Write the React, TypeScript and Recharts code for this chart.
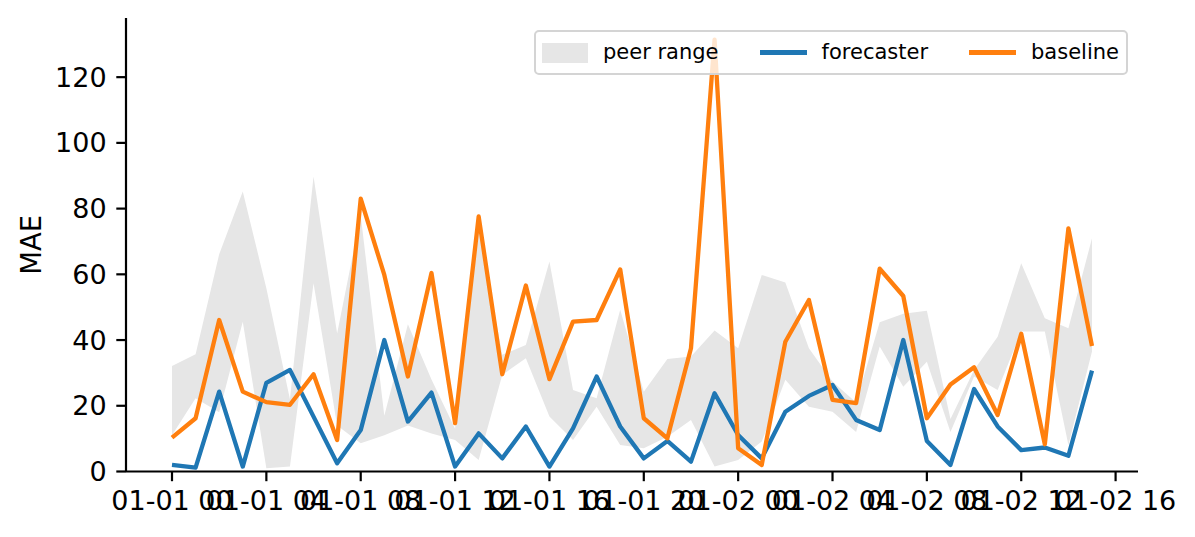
import React from 'react';
import { ComposedChart, Area, Line, XAxis, YAxis } from 'recharts';

// hours since 01-01 00
const hours = [
  0, 1, 2, 3, 4, 5, 6, 7, 8, 9, 10, 11, 12, 13, 14, 15, 16, 17, 18, 19,
  20, 21, 22, 23, 24, 25, 26, 27, 28, 29, 30, 31, 32, 33, 34, 35, 36, 37, 38, 39,
];

const forecaster = [
  2.0, 1.2, 24.3, 1.5, 27.0, 30.9, 16.7, 2.5, 12.6, 40.0,
  15.2, 24.0, 1.5, 11.6, 4.0, 13.7, 1.5, 13.1, 28.9, 13.7,
  4.0, 9.3, 3.0, 23.8, 11.1, 4.0, 18.2, 23.0, 26.3, 15.7,
  12.6, 40.0, 9.3, 2.0, 25.1, 13.7, 6.5, 7.3, 4.8, 30.7,
];

const baseline = [
  10.3, 16.2, 46.1, 24.3, 21.1, 20.3, 29.6, 9.6, 83.0, 59.8,
  28.9, 60.4, 14.7, 77.6, 29.6, 56.6, 28.1, 45.6, 46.1, 61.5,
  16.2, 10.1, 37.5, 131.4, 7.1, 2.0, 39.5, 52.2, 21.8, 20.8,
  61.7, 53.4, 16.2, 26.5, 31.7, 17.2, 41.9, 8.3, 74.0, 38.2,
];

const peerHigh = [
  32.1, 35.7, 66.1, 85.2, 55.8, 22.0, 89.8, 42.0, 78.0, 17.0,
  44.8, 28.0, 13.0, 75.0, 35.5, 38.5, 63.9, 24.8, 22.3, 49.2,
  24.3, 34.2, 35.0, 42.9, 37.5, 59.8, 57.5, 37.5, 27.4, 21.0,
  45.4, 48.0, 48.9, 16.0, 30.9, 41.0, 63.4, 46.6, 43.6, 71.0,
];

const peerLow = [
  11.0, 22.3, 18.0, 45.6, 1.0, 1.5, 57.3, 14.0, 8.6, 11.0,
  14.0, 11.6, 9.6, 3.5, 29.4, 34.5, 16.7, 9.6, 19.7, 8.1,
  7.1, 10.6, 15.7, 1.5, 3.5, 9.1, 27.9, 19.7, 18.2, 12.0,
  38.0, 25.8, 33.4, 12.0, 28.9, 24.8, 42.6, 42.6, 8.1, 36.5,
];

const tickHours = [0, 4, 8, 12, 16, 20, 24, 28, 32, 36, 40];
const tickLabels = [
  '01-01 00', '01-01 04', '01-01 08', '01-01 12', '01-01 16', '01-01 20',
  '01-02 00', '01-02 04', '01-02 08', '01-02 12', '01-02 16',
];
const yTicks = [0, 20, 40, 60, 80, 100, 120];

const data = hours.map((h, i) => ({
  t: h,
  peer: [peerLow[i], peerHigh[i]],
  forecaster: forecaster[i],
  baseline: baseline[i],
}));

const FONT = 'DejaVu Sans, sans-serif';
const tickStyle = { fill: '#000', fontSize: 27, fontFamily: FONT };
const axisStroke = { stroke: '#000', strokeWidth: 2.2 };

const MaeLabel = (props: any) => {
  const vb = props.viewBox || { x: 0, y: 18, width: 126, height: 453.5 };
  const x = vb.x + 31;
  const y = vb.y + vb.height / 2;
  return (
    <text
      x={x}
      y={y}
      transform={`rotate(-90, ${x}, ${y})`}
      textAnchor="middle"
      dominantBaseline="central"
      fontSize={27.5}
      fontFamily={FONT}
      fill="#000"
    >
      MAE
    </text>
  );
};

const legendItems = [
  { name: 'peer range', kind: 'patch', color: '#e6e6e6' },
  { name: 'forecaster', kind: 'line', color: '#1f77b4' },
  { name: 'baseline', kind: 'line', color: '#ff7f0e' },
];

const ChartLegend = () => (
  <div
    style={{
      position: 'absolute',
      left: 534,
      top: 30,
      width: 594,
      height: 45,
      boxSizing: 'border-box',
      border: '2px solid #d4d4d4',
      borderRadius: 5,
      background: 'rgba(255,255,255,0.8)',
      display: 'flex',
      alignItems: 'center',
      paddingLeft: 6,
      fontFamily: FONT,
      fontSize: 21,
      color: '#000',
      whiteSpace: 'nowrap',
    }}
  >
    {legendItems.map((it) => (
      <div key={it.name} style={{ display: 'flex', alignItems: 'center', marginRight: 41 }}>
        {it.kind === 'patch' ? (
          <div style={{ width: 46, height: 20, background: it.color }} />
        ) : (
          <div style={{ width: 47, height: 4.3, background: it.color }} />
        )}
        <span style={{ marginLeft: 15, lineHeight: '24px', position: 'relative', top: -1 }}>
          {it.name}
        </span>
      </div>
    ))}
  </div>
);

const App: React.FC = () => {
  return (
    <div
      style={{
        position: 'absolute',
        left: 0,
        top: 0,
        width: 1195,
        height: 537,
        background: '#fff',
        fontFamily: FONT,
      }}
    >
      <ComposedChart
        width={1195}
        height={537}
        data={data}
        margin={{ top: 18, right: 57, bottom: 0, left: 0 }}
      >
        <XAxis
          dataKey="t"
          type="number"
          domain={[-1.95, 40.95]}
          ticks={tickHours}
          interval={0}
          tickFormatter={(v: number) => tickLabels[tickHours.indexOf(v)] ?? ''}
          height={65.5}
          tick={tickStyle}
          tickSize={9.7}
          tickMargin={9.7}
          axisLine={axisStroke}
          tickLine={axisStroke}
          allowDataOverflow
        />
        <YAxis
          type="number"
          domain={[0, 138]}
          ticks={yTicks}
          interval={0}
          width={126}
          tick={tickStyle}
          tickSize={9.7}
          tickMargin={9.7}
          axisLine={axisStroke}
          tickLine={axisStroke}
          allowDataOverflow
          label={{ content: (p: any) => <MaeLabel {...p} /> }}
        />
        <Area
          type="linear"
          dataKey="peer"
          stroke="none"
          fill="#e6e6e6"
          fillOpacity={1}
          dot={false}
          activeDot={false}
          isAnimationActive={false}
        />
        <Line
          type="linear"
          dataKey="forecaster"
          stroke="#1f77b4"
          strokeWidth={4.3}
          strokeLinejoin="round"
          dot={false}
          activeDot={false}
          isAnimationActive={false}
        />
        <Line
          type="linear"
          dataKey="baseline"
          stroke="#ff7f0e"
          strokeWidth={4.3}
          strokeLinejoin="round"
          dot={false}
          activeDot={false}
          isAnimationActive={false}
        />
      </ComposedChart>
      <ChartLegend />
    </div>
  );
};

export default App;
